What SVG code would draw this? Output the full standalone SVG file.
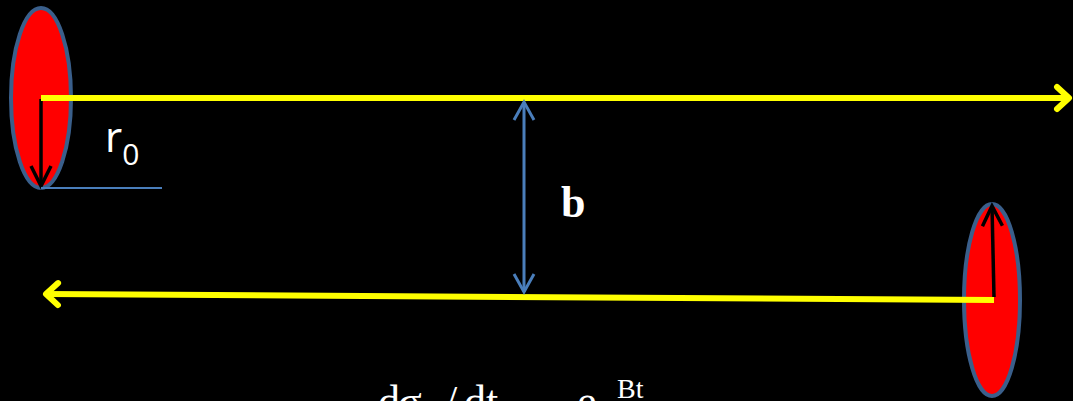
<svg xmlns="http://www.w3.org/2000/svg" width="1073" height="401" viewBox="0 0 1073 401">
<style>
.disk{fill:#FF0000;stroke:#3A5F8B;stroke-width:4}
.yl{fill:none;stroke:#FFFF00;stroke-width:6}
.bk{fill:none;stroke:#000000;stroke-width:3.5}
.bl{fill:none;stroke:#4A7EBB;stroke-width:3}
.thin{fill:none;stroke:#4A7EBB;stroke-width:2}
.serif{font-family:"Liberation Serif","Times New Roman",serif;fill:#FFFFFF}
.sans{font-family:"Open Sans","Liberation Sans",sans-serif;fill:#FFFFFF}
</style>
<defs>
<marker id="ay" markerUnits="userSpaceOnUse" orient="auto" overflow="visible" markerWidth="1" markerHeight="1" refX="0" refY="0">
<path d="M-12,-11 L0,0 L-12,11" fill="none" stroke="#FFFF00" stroke-width="6" stroke-linecap="round" stroke-linejoin="round"/>
</marker>
<marker id="ab" markerUnits="userSpaceOnUse" orient="auto-start-reverse" overflow="visible" markerWidth="1" markerHeight="1" refX="0" refY="0">
<path d="M-18,-10 L0,0 L-18,10" fill="none" stroke="#4A7EBB" stroke-width="3" stroke-linecap="butt" stroke-linejoin="miter"/>
</marker>
<marker id="ak" markerUnits="userSpaceOnUse" orient="auto" overflow="visible" markerWidth="1" markerHeight="1" refX="0" refY="0">
<path d="M-20,-10 L0,0 L-20,10" fill="none" stroke="#000000" stroke-width="3.5" stroke-linejoin="miter"/>
</marker>
</defs>
<rect x="0" y="0" width="1073" height="401" fill="#000000"/>
<g id="disk-left"><ellipse class="disk" cx="41" cy="98" rx="30" ry="90"/></g>
<g id="disk-right"><ellipse class="disk" cx="992" cy="300" rx="28" ry="96"/></g>
<g id="connectors">
<line class="bk" x1="41" y1="99" x2="41" y2="186" marker-end="url(#ak)"/>
<line class="bk" x1="994" y1="297" x2="992" y2="206" marker-end="url(#ak)"/>
<line class="yl" x1="41" y1="98" x2="1069" y2="98" marker-end="url(#ay)"/>
<line class="yl" x1="994" y1="300" x2="46" y2="294" marker-end="url(#ay)"/>
<line class="thin" x1="41" y1="188" x2="162" y2="188"/>
<line class="bl" x1="524" y1="102" x2="524" y2="292" marker-start="url(#ab)" marker-end="url(#ab)"/>
</g>
<g id="label-r0"><text class="sans" x="105" y="152" font-size="42">r<tspan font-size="30" y="165">0</tspan></text></g>
<g id="label-b"><text class="serif" x="561" y="217" font-size="44" font-weight="bold">b</text></g>
<g id="formula"><text class="serif" font-size="44" y="416"><tspan x="378">d</tspan><tspan x="398">σ</tspan><tspan x="445">/</tspan><tspan x="464">dt</tspan><tspan x="577">e</tspan><tspan x="617" y="398" font-size="28">Bt</tspan></text></g>
</svg>
